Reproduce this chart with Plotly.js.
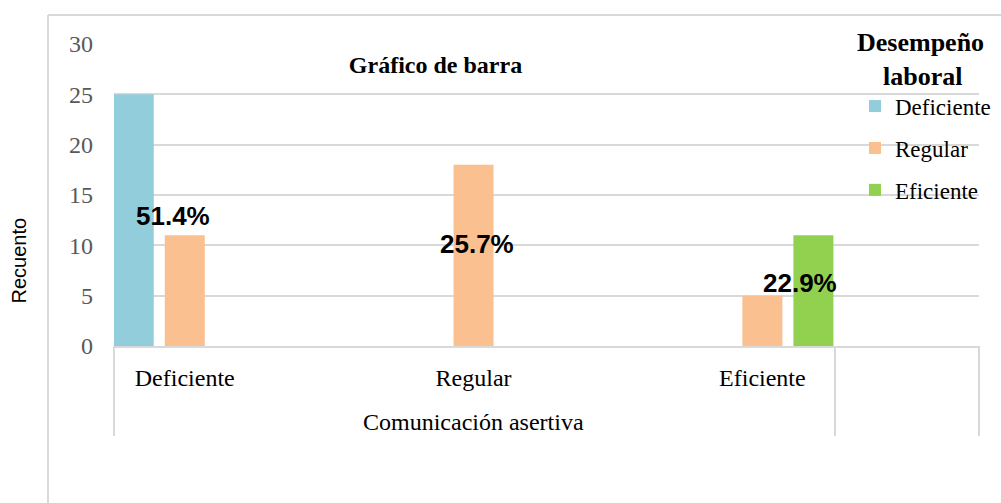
<!DOCTYPE html>
<html>
<head>
<meta charset="utf-8">
<script src="https://cdn.plot.ly/plotly-3.0.1.min.js"></script>
<style>html,body{margin:0;padding:0;background:#fff;}#chart{width:1001px;height:503px;}</style>
</head>
<body>
<div id="chart"></div>
<script>
// ---- data ----
const categories = ["Deficiente", "Regular", "Eficiente"];
const seriesNames = ["Deficiente", "Regular", "Eficiente"];
const deficienteValues = [25, 0, 0];
const regularValues = [11, 18, 5];
const eficienteValues = [0, 0, 11];
const percentLabels = ["51.4%", "25.7%", "22.9%"];
const yTicks = [0, 5, 10, 15, 20, 25, 30];

const colors = ["#92CDDC", "#FAC090", "#92D050"];
const serif = "Liberation Serif, Times New Roman, serif";
const sans = "Liberation Sans, Arial, sans-serif";

const catPos = categories.map((c, i) => i);
const seriesValues = [deficienteValues, regularValues, eficienteValues];

const traces = seriesNames.map((name, i) => ({
  type: "bar",
  name: name,
  x: catPos,
  y: seriesValues[i],
  marker: { color: colors[i], line: { width: 0 } },
  legendgroup: "g" + i,
  hoverinfo: "skip"
}));

// label positions (x in category units, y in axis units)
const labelPos = [[-0.04, 12.95], [1.012, 10.1], [2.13, 6.25]];
const labelAnnotations = percentLabels.map((t, i) => ({
  text: "<b>" + t + "</b>",
  x: labelPos[i][0], y: labelPos[i][1], xref: "x", yref: "y",
  showarrow: false, xanchor: "center", yanchor: "middle",
  font: { family: sans, size: 26, color: "#000" }
}));

// pixel -> paper helpers (plot area: x 114..979, y 44..346)
const W = 1001, H = 503;
const L = 114, R = 979, T = 44, B = 346;
const px = v => (v - L) / (R - L);
const py = v => (B - v) / (B - T);
const grey = "#d9d9d9";

const shapes = [
  // outer border
  { type: "line", xref: "paper", yref: "paper", x0: px(48), x1: px(48), y0: py(503), y1: py(15), line: { color: grey, width: 2 } },
  { type: "line", xref: "paper", yref: "paper", x0: px(48), x1: px(1001), y0: py(15), y1: py(15), line: { color: grey, width: 2 } },
  // category axis dividers
  { type: "line", xref: "paper", yref: "paper", x0: 0, x1: 0, y0: 0, y1: py(436), line: { color: grey, width: 2 } },
  { type: "line", xref: "paper", yref: "paper", x0: px(835), x1: px(835), y0: 0, y1: py(436), line: { color: grey, width: 2 } },
  { type: "line", xref: "paper", yref: "paper", x0: 1, x1: 1, y0: 0, y1: py(436), line: { color: grey, width: 2 } },
  // white backing behind the title
  { type: "rect", xref: "paper", yref: "paper", x0: px(210), x1: px(662), y0: py(52), y1: py(38), fillcolor: "#fff", line: { width: 0 }, layer: "above" }
];

const layout = {
  width: W, height: H,
  margin: { l: L, r: W - R, t: T, b: H - B, pad: 0, autoexpand: false },
  paper_bgcolor: "#fff", plot_bgcolor: "#fff",
  barmode: "group", bargap: 0.47, bargroupgap: 0.216,
  title: {
    text: "<b>Gráfico de barra</b>",
    xref: "paper", x: px(435.5), xanchor: "center",
    yref: "container", y: 1 - 65 / H, yanchor: "middle",
    font: { family: serif, size: 24, color: "#000" }
  },
  xaxis: {
    range: [-0.245, 2.75],
    tickvals: catPos, ticktext: categories,
    tickfont: { family: serif, size: 24, color: "#000" },
    ticks: "", ticklabelstandoff: 9,
    showgrid: false, zeroline: false,
    showline: true, linecolor: grey, linewidth: 2,
    fixedrange: true
  },
  yaxis: {
    range: [0, 30], tickvals: yTicks,
    tickfont: { family: serif, size: 24, color: "#595959" },
    ticks: "", ticklabelstandoff: 20,
    showgrid: true, gridcolor: grey, gridwidth: 2,
    zeroline: false, showline: false, fixedrange: true
  },
  legend: {
    xref: "container", yref: "container",
    x: 855 / W, xanchor: "left", y: 1 - 17 / H, yanchor: "top",
    bgcolor: "rgba(0,0,0,0)",
    traceorder: "grouped", tracegroupgap: 9,
    font: { family: serif, size: 23, color: "#000" },
    title: { text: "<b>Desempeño<br>&nbsp;&nbsp;&nbsp;&nbsp;laboral</b>", side: "top", font: { family: serif, size: 26, color: "#000" } }
  },
  shapes: shapes,
  annotations: labelAnnotations.concat([
    { text: "Comunicación asertiva", xref: "paper", yref: "paper", x: px(473.5), y: py(422),
      xanchor: "center", yanchor: "middle", showarrow: false,
      font: { family: serif, size: 24, color: "#000" } },
    { text: "Recuento", xref: "paper", yref: "paper", x: px(18), y: py(260.5),
      xanchor: "center", yanchor: "middle", showarrow: false, textangle: -90,
      font: { family: sans, size: 20, color: "#000" } }
  ])
};

Plotly.newPlot("chart", traces, layout, { displayModeBar: false, staticPlot: true });
</script>
</body>
</html>
